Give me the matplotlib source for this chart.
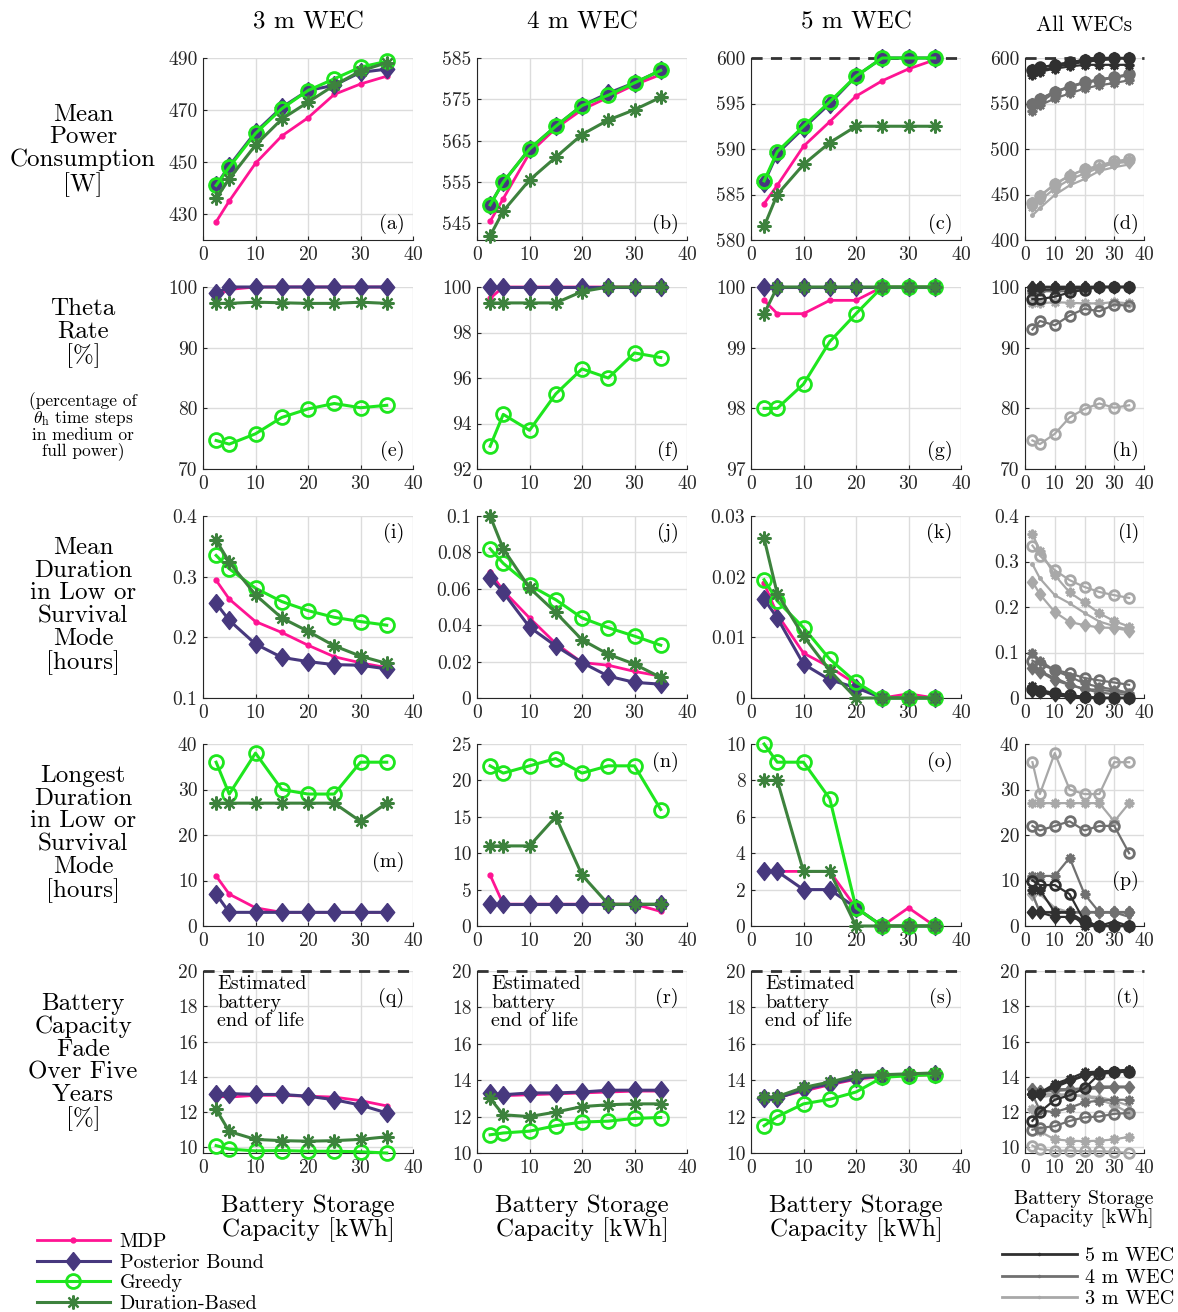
import matplotlib.pyplot as plt
import numpy as np
from matplotlib.lines import Line2D
from matplotlib.ticker import FuncFormatter

plt.rcParams['font.family'] = 'cmr10'
plt.rcParams['mathtext.fontset'] = 'cm'
plt.rcParams['axes.formatter.use_mathtext'] = True

# battery storage capacity [kWh]
capacity = [2.5, 5, 10, 15, 20, 25, 30, 35]
strategies = ['MDP', 'Posterior Bound', 'Greedy', 'Duration-Based']
wec_sizes = ['3 m WEC', '4 m WEC', '5 m WEC']

# each panel: [MDP, Posterior Bound, Greedy, Duration-Based]
power_3m = [[427, 435, 449.5, 460, 467, 476, 480, 483],
            [441, 448.5, 461.5, 471, 477.5, 479.5, 484.5, 485.7],
            [441, 448, 461, 470.5, 477.5, 482, 486.5, 488.7],
            [436, 443.5, 456.5, 466.5, 473, 479.5, 485, 488.2]]
power_4m = [[545.5, 551, 562, 568, 572.5, 575.5, 578.5, 581],
            [549.5, 555, 563, 568.5, 573.5, 576.5, 579, 582],
            [549.5, 555, 563, 568.5, 573.5, 576, 579, 582],
            [542, 548, 555.5, 561, 566.5, 570, 572.5, 575.5]]
power_5m = [[584, 586, 590.3, 593, 595.8, 597.5, 598.8, 599.8],
            [586.3, 589.5, 592.3, 595, 598, 600, 600, 600],
            [586.5, 589.7, 592.5, 595.2, 598, 600, 600, 600],
            [581.5, 585, 588.3, 590.7, 592.5, 592.5, 592.5, 592.5]]

theta_3m = [[98.5, 99.6, 100, 100, 100, 100, 100, 100],
            [99, 100, 100, 100, 100, 100, 100, 100],
            [74.7, 74.1, 75.8, 78.5, 79.9, 80.8, 80.1, 80.5],
            [97.3, 97.3, 97.5, 97.4, 97.3, 97.3, 97.5, 97.3]]
theta_4m = [[99.5, 100, 100, 100, 100, 100, 100, 100],
            [100, 100, 100, 100, 100, 100, 100, 100],
            [93.0, 94.4, 93.7, 95.3, 96.4, 96.0, 97.1, 96.9],
            [99.3, 99.3, 99.3, 99.3, 99.8, 100, 100, 100]]
theta_5m = [[99.78, 99.56, 99.56, 99.78, 99.78, 100, 100, 100],
            [100, 100, 100, 100, 100, 100, 100, 100],
            [98.0, 98.0, 98.4, 99.1, 99.56, 100, 100, 100],
            [99.56, 100, 100, 100, 100, 100, 100, 100]]

mean_dur_3m = [[0.294, 0.263, 0.226, 0.208, 0.187, 0.168, 0.158, 0.150],
               [0.256, 0.228, 0.189, 0.167, 0.160, 0.155, 0.154, 0.148],
               [0.335, 0.313, 0.281, 0.259, 0.244, 0.233, 0.226, 0.220],
               [0.360, 0.324, 0.270, 0.232, 0.210, 0.186, 0.169, 0.157]]
mean_dur_4m = [[0.069, 0.059, 0.044, 0.030, 0.0195, 0.018, 0.0146, 0.012],
               [0.066, 0.058, 0.039, 0.0286, 0.0195, 0.012, 0.0086, 0.0076],
               [0.082, 0.074, 0.062, 0.054, 0.044, 0.0386, 0.034, 0.029],
               [0.100, 0.082, 0.0605, 0.047, 0.032, 0.024, 0.0186, 0.0113]]
mean_dur_5m = [[0.0189, 0.0138, 0.0074, 0.0051, 0.0023, 0, 0.0007, 0],
               [0.0163, 0.0132, 0.0056, 0.003, 0.0017, 0, 0, 0],
               [0.0195, 0.016, 0.0116, 0.0064, 0.0026, 0, 0, 0],
               [0.0263, 0.0172, 0.0102, 0.0045, 0, 0, 0, 0]]

longest_3m = [[11, 7, 4, 3, 3, 3, 3, 3],
              [7, 3, 3, 3, 3, 3, 3, 3],
              [36, 29, 38, 30, 29, 29, 36, 36],
              [27, 27, 27, 27, 27, 27, 23, 27]]
longest_4m = [[7, 3, 3, 3, 3, 3, 3, 2],
              [3, 3, 3, 3, 3, 3, 3, 3],
              [22, 21, 22, 23, 21, 22, 22, 16],
              [11, 11, 11, 15, 7, 3, 3, 3]]
longest_5m = [[3, 3, 3, 3, 1, 0, 1, 0],
              [3, 3, 2, 2, 1, 0, 0, 0],
              [10, 9, 9, 7, 1, 0, 0, 0],
              [8, 8, 3, 3, 0, 0, 0, 0]]

fade_3m = [[12.9, 12.85, 12.95, 12.95, 12.9, 12.85, 12.65, 12.35],
           [13.05, 13.05, 13.0, 13.0, 12.9, 12.7, 12.4, 11.95],
           [10.1, 9.9, 9.8, 9.82, 9.78, 9.78, 9.75, 9.68],
           [12.15, 10.9, 10.45, 10.38, 10.35, 10.38, 10.45, 10.6]]
fade_4m = [[13.1, 13.15, 13.2, 13.25, 13.3, 13.35, 13.4, 13.4],
           [13.3, 13.2, 13.3, 13.3, 13.35, 13.45, 13.45, 13.45],
           [11.0, 11.1, 11.2, 11.5, 11.7, 11.75, 11.9, 11.95],
           [13.0, 12.1, 12.0, 12.25, 12.55, 12.65, 12.7, 12.7]]
fade_5m = [[13.0, 13.05, 13.4, 13.75, 14.05, 14.2, 14.25, 14.3],
           [13.0, 13.0, 13.5, 13.8, 14.1, 14.25, 14.3, 14.35],
           [11.5, 12.0, 12.7, 12.95, 13.35, 14.15, 14.25, 14.3],
           [13.05, 13.1, 13.6, 13.9, 14.25, 14.3, 14.35, 14.4]]

row_labels = ['Mean\nPower\nConsumption\n[W]',
              'Theta\nRate\n[%]',
              'Mean\nDuration\nin Low or\nSurvival\nMode\n[hours]',
              'Longest\nDuration\nin Low or\nSurvival\nMode\n[hours]',
              'Battery\nCapacity\nFade\nOver Five\nYears\n[%]']

# layout in pixels of the reference
W, H = 1178, 1312
col_left = [203, 477, 751, 1025]
col_width = [210, 210, 210, 119]
row_top = [58, 287, 516, 744, 971]
row_h = 182

diamond = [(0, 1), (0.8, 0), (0, -1), (-0.8, 0), (0, 1)]
asterisk = (8, 2, 0)
styles = [dict(color='#ff1493', marker='o', ms=3.5, lw=2),
          dict(color='#47387e', marker=diamond, ms=13, lw=2.2),
          dict(color='#1ee61e', marker='o', ms=10, mfc='none', mew=2, lw=2.2),
          dict(color='#3d823d', marker=asterisk, ms=10, mew=1.6, lw=2.2)]
draw_order = [1, 3, 2, 0]
grays = ['#a8a8a8', '#707070', '#303030']


def make_axes(fig, r, c):
    ax = fig.add_axes([col_left[c] / W, 1 - (row_top[r] + row_h) / H,
                       col_width[c] / W, row_h / H])
    ax.set_xlim(0, 40)
    ax.set_xticks([0, 10, 20, 30, 40])
    ax.grid(True, color='#dcdcdc', lw=1)
    ax.set_axisbelow(True)
    for s in ['top', 'right']:
        ax.spines[s].set_visible(False)
    for s in ['left', 'bottom']:
        ax.spines[s].set_color('#262626')
    ax.tick_params(direction='in', length=3, labelsize=14, pad=4,
                   colors='#262626')
    ax.yaxis.set_major_formatter(FuncFormatter(lambda v, p: '%g' % v))
    return ax


def plot_strategies(ax, series):
    for i in draw_order:
        ax.plot(capacity, series[i], clip_on=False, zorder=3 + i, **styles[i])


def plot_all_wecs(ax, panels):
    for w, series in enumerate(panels):
        for i in draw_order:
            st = dict(styles[i])
            st['color'] = grays[w]
            st['ms'] = st['ms'] * 0.7
            st['lw'] = 1.6
            if i == 0:
                st['ms'] = 2.5
            ax.plot(capacity, series[i], clip_on=False, zorder=3 + w, **st)


fig = plt.figure(figsize=(W / 100, H / 100), dpi=100)

rows = [[power_3m, power_4m, power_5m],
        [theta_3m, theta_4m, theta_5m],
        [mean_dur_3m, mean_dur_4m, mean_dur_5m],
        [longest_3m, longest_4m, longest_5m],
        [fade_3m, fade_4m, fade_5m]]
yticks = [[np.arange(430, 491, 20), np.arange(545, 586, 10), np.arange(580, 601, 5), np.arange(400, 601, 50)],
          [np.arange(70, 101, 10), np.arange(92, 101, 2), np.arange(97, 101, 1), np.arange(70, 101, 10)],
          [np.arange(0.1, 0.41, 0.1), np.arange(0, 0.101, 0.02), np.arange(0, 0.031, 0.01), np.arange(0, 0.41, 0.1)],
          [np.arange(0, 41, 10), np.arange(0, 26, 5), np.arange(0, 11, 2), np.arange(0, 41, 10)],
          [np.arange(10, 21, 2), np.arange(10, 21, 2), np.arange(10, 21, 2), np.arange(10, 21, 2)]]
ylims = [[(420, 490), (541, 585), (580, 600), (400, 600)],
         [(70, 100), (92, 100), (97, 100), (70, 100)],
         [(0.1, 0.4), (0, 0.1), (0, 0.03), (0, 0.4)],
         [(0, 40), (0, 25), (0, 10), (0, 40)],
         [(9.68, 20), (10, 20), (10, 20), (9.68, 20)]]
letters = 'abcdefghijklmnopqrst'
letter_y = [[0.088] * 4, [0.1] * 4, [0.907] * 4, [0.35, 0.9, 0.9, 0.25], [0.85] * 4]

for r in range(5):
    for c in range(4):
        ax = make_axes(fig, r, c)
        if c < 3:
            plot_strategies(ax, rows[r][c])
        else:
            plot_all_wecs(ax, rows[r])
        ax.set_yticks(yticks[r][c])
        ax.set_ylim(*ylims[r][c])
        ax.text(0.96, letter_y[r][c], '(%s)' % letters[r * 4 + c],
                transform=ax.transAxes, ha='right', va='center', fontsize=14.5)
        if r == 4:
            ax.axhline(20, color='#333333', lw=2, ls=(0, (4, 3)), zorder=2,
                       clip_on=False)
            if c < 3:
                ax.text(0.067, 0.975, 'Estimated\nbattery\nend of life',
                        transform=ax.transAxes, ha='left', va='top',
                        fontsize=14.5, linespacing=1.04)
        if r == 0 and c >= 2:
            ax.axhline(600, color='#333333', lw=2, ls=(0, (4, 3)), zorder=2,
                       clip_on=False)

# column titles and x labels
for c in range(3):
    xc = (col_left[c] + col_width[c] / 2) / W
    fig.text(xc, 1 - 22 / H, wec_sizes[c], ha='center', va='center', fontsize=18)
    fig.text(xc, 1 - 1218 / H, 'Battery Storage\nCapacity [kWh]',
             ha='center', va='center', fontsize=18, linespacing=1.0)
fig.text(1084 / W, 1 - 25 / H, 'All WECs', ha='center', va='center', fontsize=15.5)
fig.text(1084 / W, 1 - 1209 / H, 'Battery Storage\nCapacity [kWh]',
         ha='center', va='center', fontsize=14.5, linespacing=1.0)

# row labels
row_centers = [150, 333, 606, 834, 1062]
for r in range(5):
    fig.text(83 / W, 1 - row_centers[r] / H, row_labels[r], ha='center',
             va='center', fontsize=18, linespacing=1.03)
fig.text(83 / W, 1 - 426 / H,
         '(percentage of\n$\\theta_{\\rm h}$ time steps\nin medium or\nfull power)',
         ha='center', va='center', fontsize=12.5, linespacing=0.96)

# legends
handles = [Line2D([], [], label=strategies[i], **styles[i]) for i in range(4)]
fig.legend(handles=handles, loc='upper left', bbox_to_anchor=(37 / W, 1 - 1233 / H),
           frameon=False, fontsize=14.5, handlelength=3.6, handletextpad=0.5,
           labelspacing=0.12, borderpad=0, borderaxespad=0)
wec_handles = [Line2D([], [], color=grays[w], lw=2, marker='o', ms=1.5, label=wec_sizes[w])
               for w in [2, 1, 0]]
fig.legend(handles=wec_handles, loc='upper left', bbox_to_anchor=(1002 / W, 1 - 1247 / H),
           frameon=False, fontsize=14.5, handlelength=3.7, handletextpad=0.4,
           labelspacing=0.17, borderpad=0, borderaxespad=0)

fig.savefig('out.png', dpi=100, facecolor='white')
